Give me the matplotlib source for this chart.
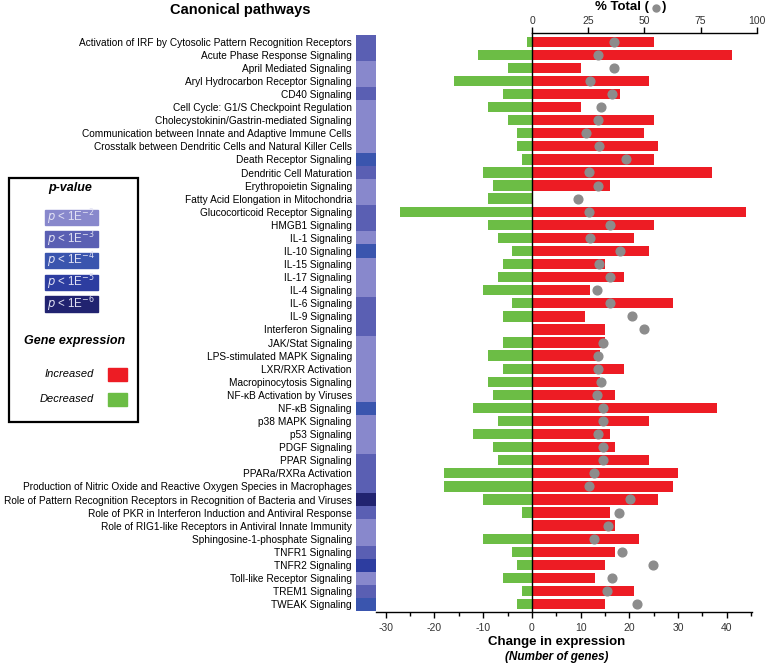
import numpy as np
import matplotlib
matplotlib.use("Agg")
import matplotlib.pyplot as plt
from matplotlib.colors import ListedColormap
from matplotlib.patches import Rectangle

plt.rcParams['font.family'] = ['Liberation Sans', 'DejaVu Sans']
plt.rcParams['axes.unicode_minus'] = False

pathways = [
    "Activation of IRF by Cytosolic Pattern Recognition Receptors",
    "Acute Phase Response Signaling",
    "April Mediated Signaling",
    "Aryl Hydrocarbon Receptor Signaling",
    "CD40 Signaling",
    "Cell Cycle: G1/S Checkpoint Regulation",
    "Cholecystokinin/Gastrin-mediated Signaling",
    "Communication between Innate and Adaptive Immune Cells",
    "Crosstalk between Dendritic Cells and Natural Killer Cells",
    "Death Receptor Signaling",
    "Dendritic Cell Maturation",
    "Erythropoietin Signaling",
    "Fatty Acid Elongation in Mitochondria",
    "Glucocorticoid Receptor Signaling",
    "HMGB1 Signaling",
    "IL-1 Signaling",
    "IL-10 Signaling",
    "IL-15 Signaling",
    "IL-17 Signaling",
    "IL-4 Signaling",
    "IL-6 Signaling",
    "IL-9 Signaling",
    "Interferon Signaling",
    "JAK/Stat Signaling",
    "LPS-stimulated MAPK Signaling",
    "LXR/RXR Activation",
    "Macropinocytosis Signaling",
    "NF-κB Activation by Viruses",
    "NF-κB Signaling",
    "p38 MAPK Signaling",
    "p53 Signaling",
    "PDGF Signaling",
    "PPAR Signaling",
    "PPARa/RXRa Activation",
    "Production of Nitric Oxide and Reactive Oxygen Species in Macrophages",
    "Role of Pattern Recognition Receptors in Recognition of Bacteria and Viruses",
    "Role of PKR in Interferon Induction and Antiviral Response",
    "Role of RIG1-like Receptors in Antiviral Innate Immunity",
    "Sphingosine-1-phosphate Signaling",
    "TNFR1 Signaling",
    "TNFR2 Signaling",
    "Toll-like Receptor Signaling",
    "TREM1 Signaling",
    "TWEAK Signaling",
]

# number of genes up / down
increased = [25, 41, 10, 24, 18, 10, 25, 23, 26, 25, 37, 16, 0, 44, 25, 21, 24, 15, 19, 12, 29, 11,
             15, 15, 14, 19, 14, 17, 38, 24, 16, 17, 24, 30, 29, 26, 16, 17, 22, 17, 15, 13, 21, 15]
decreased = [-1, -11, -5, -16, -6, -9, -5, -3, -3, -2, -10, -8, -9, -27, -9, -7, -4, -6, -7, -10, -4, -6,
             0, -6, -9, -6, -9, -8, -12, -7, -12, -8, -7, -18, -18, -10, -2, 0, -10, -4, -3, -6, -2, -3]
# % of pathway genes changed (grey dots)
pct_total = [36.4, 29.4, 36.4, 26.0, 35.5, 30.8, 29.4, 23.9, 29.9, 42.0, 25.3, 29.4, 20.5, 25.3, 34.9,
             26.0, 39.2, 29.9, 34.6, 29.0, 34.6, 44.4, 49.8, 31.6, 29.4, 29.4, 30.8, 29.0, 31.6, 31.6,
             29.4, 31.6, 31.6, 27.5, 25.3, 43.8, 38.8, 33.9, 27.5, 40.1, 53.9, 35.5, 33.3, 46.8]
# p-value class: 1 -> p<1E-2 ... 5 -> p<1E-6
p_level = [2, 2, 1, 1, 2, 1, 1, 1, 1, 3, 2, 1, 1, 2, 2, 1, 3, 1, 1, 1, 2, 2, 2, 1, 1, 1, 1, 1, 3, 1,
           1, 1, 2, 2, 2, 5, 2, 1, 1, 2, 4, 1, 2, 3]
p_labels = ["-2", "-3", "-4", "-5", "-6"]

p_colors = ['#8888cc', '#5a5fb3', '#3a55ae', '#2d3da0', '#212370']
red = '#ed1c24'
green = '#6cbd45'
grey = '#8c8c8c'

W, H = 766, 668
fig = plt.figure(figsize=(W / 100, H / 100), dpi=100)


def box(x0, y0, x1, y1):
    return [x0 / W, 1 - y1 / H, (x1 - x0) / W, (y1 - y0) / H]


n = len(pathways)
y = np.arange(n)
ylim = (43.58, -0.64)

# main bar chart
ax = fig.add_axes(box(376, 33.3, 752, 611.7))
ax.barh(y, increased, height=0.79, color=red)
ax.barh(y, decreased, height=0.79, color=green)
ax.axvline(0, color='black', lw=1)
ax.set_xlim(-32, 45.2)
ax.set_ylim(*ylim)
ax.set_yticks([])
for s in ['top', 'left', 'right']:
    ax.spines[s].set_visible(False)
ax.spines['bottom'].set_linewidth(1)
ax.set_xticks(range(-30, 41, 10))
ax.set_xticks(range(-25, 46, 10), minor=True)
ax.tick_params(axis='x', which='major', length=4, width=1, pad=4, labelsize=7.5, labelcolor='#333333')
ax.tick_params(axis='x', which='minor', length=3, width=1)

# p-value column with pathway labels
axc = fig.add_axes(box(356, 35.2, 376, 610.7))
axc.imshow(np.array(p_level)[:, None], cmap=ListedColormap(p_colors), vmin=0.5, vmax=5.5,
           aspect='auto', extent=(0, 1, n - 0.5, -0.5), interpolation='nearest')
axc.set_xticks([])
axc.set_yticks(y)
axc.set_yticklabels(pathways, fontsize=7.3)
axc.tick_params(axis='y', length=0, pad=3)
for s in axc.spines.values():
    s.set_visible(False)

# % total axis on top
axp = fig.add_axes(box(532, 33.3, 756.7, 611.7))
axp.patch.set_visible(False)
axp.plot(pct_total, y, 'o', color=grey, ms=6.3, mec=grey)
axp.set_xlim(0, 100)
axp.set_ylim(*ylim)
axp.set_yticks([])
for s in ['bottom', 'left', 'right']:
    axp.spines[s].set_visible(False)
axp.spines['top'].set_linewidth(1)
axp.xaxis.tick_top()
axp.set_xticks([0, 25, 50, 75, 100])
axp.tick_params(axis='x', length=4, width=1, pad=1.5, labelsize=7.5, labelcolor='#333333')

# titles
fig.text(240 / W, 1 - 10 / H, "Canonical pathways", ha='center', va='center', fontsize=10.5, fontweight='bold')
fig.text(649 / W, 1 - 7 / H, "% Total (", ha='right', va='center', fontsize=9.5, fontweight='bold')
fig.text(662 / W, 1 - 7 / H, ")", ha='left', va='center', fontsize=9.5, fontweight='bold')
fig.lines.append(plt.Line2D([655.5 / W], [1 - 8 / H], marker='o', color=grey, ms=5,
                            transform=fig.transFigure, figure=fig))
fig.text(557 / W, 1 - 641.7 / H, "Change in expression", ha='center', va='center',
         fontsize=9.5, fontweight='bold')
fig.text(557 / W, 1 - 657 / H, "(Number of genes)", ha='center', va='center',
         fontsize=8.5, fontweight='bold', style='italic')

# legend panel
fig.patches.append(Rectangle((9 / W, 1 - 422 / H), 129 / W, 244 / H, transform=fig.transFigure,
                             fill=False, ec='black', lw=1.6, figure=fig))
fig.text(70 / W, 1 - 188 / H, "p-value", ha='center', va='center', fontsize=9,
         fontweight='bold', style='italic')
for i, (c, lab) in enumerate(zip(p_colors, p_labels)):
    yc = 217.5 + 21.6 * i
    fig.patches.append(Rectangle((45 / W, 1 - (yc + 7.7) / H), 52.7 / W, 15.4 / H,
                                 transform=fig.transFigure, color=c, figure=fig))
    fig.text(71 / W, 1 - yc / H, r"$p$ < 1E$^{%s}$" % lab, ha='center', va='center',
             fontsize=8.3, color='#e2e2f4')
fig.text(75 / W, 1 - 341 / H, "Gene expression", ha='center', va='center', fontsize=9,
         fontweight='bold', style='italic')
for label, c, yc in [("Increased", red, 374), ("Decreased", green, 399)]:
    fig.text(94 / W, 1 - yc / H, label, ha='right', va='center', fontsize=8, style='italic')
    fig.patches.append(Rectangle((108 / W, 1 - (yc + 6.5) / H), 19 / W, 13 / H,
                                 transform=fig.transFigure, color=c, figure=fig))

fig.savefig("out.png", dpi=100)
